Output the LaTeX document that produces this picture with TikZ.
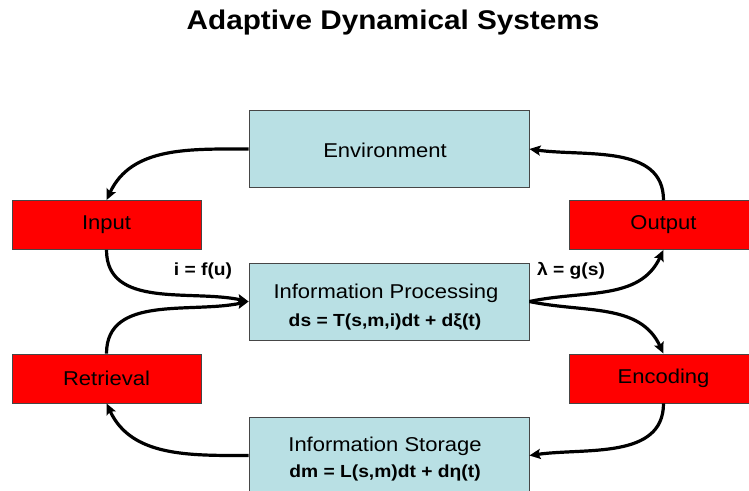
\documentclass[tikz,border=0pt]{standalone}
\usepackage{fontspec}
\setmainfont{Liberation Sans}[FakeStretch=1.1]
\usetikzlibrary{arrows.meta}
\definecolor{boxblue}{RGB}{185,224,228}
\definecolor{boxred}{RGB}{255,0,0}
\definecolor{edgegray}{RGB}{70,70,70}
\tikzset{
  bluebox/.style={draw=edgegray, line width=0.8pt, fill=boxblue, inner sep=0pt, minimum width=280pt, minimum height=77pt},
  redbox/.style={draw=edgegray, line width=0.8pt, fill=boxred, inner sep=0pt, minimum width=189pt, minimum height=49pt, font=\fontsize{20}{22}\selectfont},
  boxtext/.style={inner sep=0pt, font=\fontsize{20}{22}\selectfont},
  eqtext/.style={inner sep=0pt, font=\fontsize{17.5}{19}\selectfont\bfseries},
  flow/.style={draw=black, line width=3.2pt, -{Stealth[length=11pt,width=10pt,inset=2pt]}},
}
\begin{document}
\begin{tikzpicture}[x=1pt,y=-1pt]
\useasboundingbox (0,0) rectangle (749,490);
\node[inner sep=0pt, font=\fontsize{27}{30}\selectfont\bfseries] (title) at (393,23) {Adaptive Dynamical Systems};

\node[bluebox] (env) at (389,149) {};
\node[boxtext] (envt) at (385,150) {Environment};
\node[bluebox] (proc) at (389,301.5) {};
\node[boxtext] (proct) at (386,293) {Information Processing};
\node[eqtext] (proce) at (385,322) {ds = T(s,m,i)dt + dξ(t)};
\node[bluebox] (stor) at (389,455.5) {};
\node[boxtext] (stort) at (385,446) {Information Storage};
\node[eqtext] (store) at (385,473) {dm = L(s,m)dt + dη(t)};

\node[redbox] (input) at (106.5,225) {Input};
\node[redbox] (output) at (663.5,225) {Output};
\node[redbox] (retr) at (106.5,378.5) {Retrieval};
\node[redbox] (enc) at (663.5,378.5) {Encoding};

\node[eqtext] (lin) at (203,271) {i = f(u)};
\node[eqtext] (lout) at (571,271) {λ = g(s)};

\draw[flow] (env.west) to[out=180,in=65] (input.north);
\draw[flow] (output.north) to[out=90,in=-8] (env.east);
\draw[flow] (input.south) to[out=-90,in=168] (proc.west);
\draw[flow] (retr.north) to[out=90,in=192] (proc.west);
\draw[flow] (proc.east) to[out=12,in=-115] (output.south);
\draw[flow] (proc.east) to[out=-12,in=115] (enc.north);
\draw[flow] (enc.south) to[out=-90,in=8] (stor.east);
\draw[flow] (stor.west) to[out=180,in=-65] (retr.south);
\end{tikzpicture}
\end{document}
